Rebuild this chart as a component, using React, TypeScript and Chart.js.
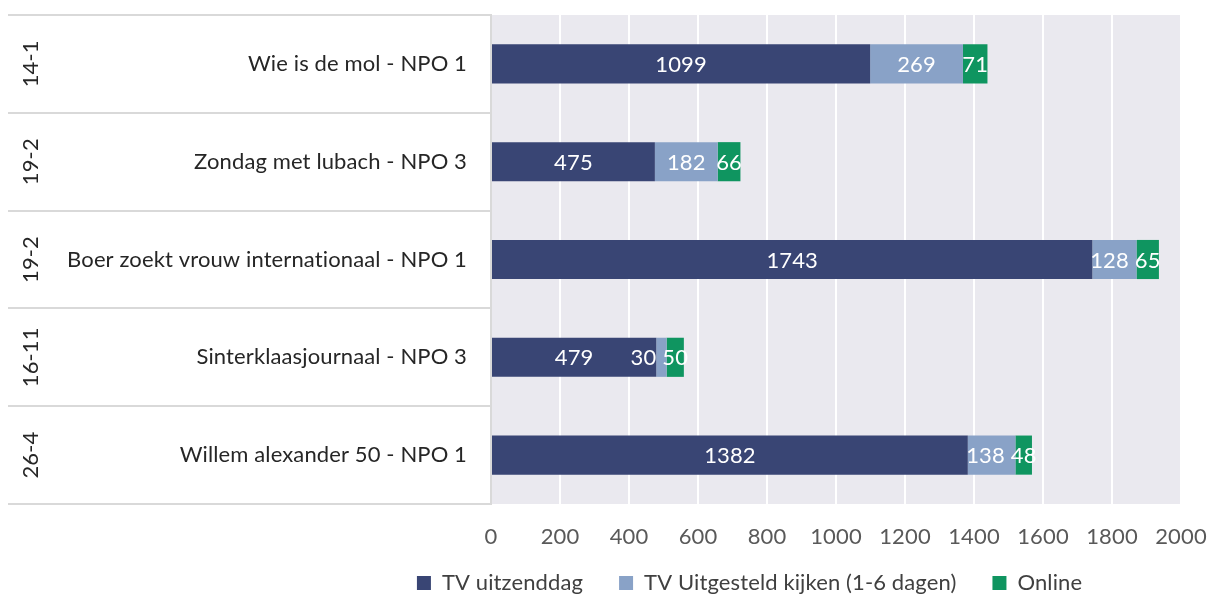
import React, { useEffect, useRef } from "react";
import { Chart, registerables } from "chart.js";

Chart.register(...registerables);

const dates = ["14-1", "19-2", "19-2", "16-11", "26-4"];
const programs = [
  "Wie is de mol - NPO 1",
  "Zondag met lubach - NPO 3",
  "Boer zoekt vrouw internationaal - NPO 1",
  "Sinterklaasjournaal - NPO 3",
  "Willem alexander 50 - NPO 1",
];
const seriesNames = ["TV uitzenddag", "TV Uitgesteld kijken (1-6 dagen)", "Online"];
const tvDay = [1099, 475, 1743, 479, 1382];
const tvDelayed = [269, 182, 128, 30, 138];
const online = [71, 66, 65, 50, 48];
const xMin = 0;
const xMax = 2000;
const xStep = 200;

const COLORS = ["#394574", "#89a2c7", "#0f9560"];
const FONT = "Lato, 'Noto Sans', sans-serif";
const LEFT_EDGE = 8;

const plotBgPlugin = {
  id: "plotBg",
  beforeDraw(chart: any) {
    const { ctx, chartArea } = chart;
    ctx.textRendering = "optimizeSpeed";
    ctx.letterSpacing = "0.12px";
    ctx.save();
    ctx.fillStyle = "#eae9ef";
    ctx.fillRect(chartArea.left, chartArea.top, chartArea.right - chartArea.left, chartArea.bottom - chartArea.top);
    ctx.restore();
  },
};

const leftPanelPlugin = {
  id: "leftPanel",
  afterDraw(chart: any) {
    const { ctx, chartArea } = chart;
    const y = chart.scales.y;
    const n = programs.length;
    ctx.save();
    ctx.strokeStyle = "#d9d9d9";
    ctx.lineWidth = 2;
    const step = (chartArea.bottom - chartArea.top) / n;
    for (let i = 0; i <= n; i++) {
      const yy = Math.round(chartArea.top + i * step);
      ctx.beginPath();
      ctx.moveTo(LEFT_EDGE, yy);
      ctx.lineTo(chartArea.left, yy);
      ctx.stroke();
    }
    ctx.fillStyle = "#262626";
    ctx.font = "22px " + FONT;
    ctx.textAlign = "center";
    ctx.textBaseline = "middle";
    dates.forEach((d, i) => {
      const cy = y.getPixelForValue(i);
      ctx.save();
      ctx.translate(31, cy);
      ctx.rotate(-Math.PI / 2);
      ctx.fillText(d, 0, 0);
      ctx.restore();
    });
    ctx.restore();
  },
};

const dataLabelPlugin = {
  id: "segLabels",
  afterDatasetsDraw(chart: any) {
    const { ctx } = chart;
    ctx.save();
    ctx.font = "22px " + FONT;
    ctx.fillStyle = "#ffffff";
    ctx.textBaseline = "middle";
    ctx.textAlign = "center";
    const nds = chart.data.datasets.length;
    chart.data.datasets.forEach((ds: any, di: number) => {
      const meta = chart.getDatasetMeta(di);
      meta.data.forEach((el: any, i: number) => {
        const v = ds.data[i];
        const text = String(v);
        const left = Math.min(el.x, el.base);
        const right = Math.max(el.x, el.base);
        const w = ctx.measureText(text).width;
        let cx = (left + right) / 2;
        if (w > right - left + 6 && di < nds - 1) {
          cx = left - w / 2;
        } else if (di < nds - 1) {
          const nEl = chart.getDatasetMeta(di + 1).data[i];
          const nText = String(chart.data.datasets[di + 1].data[i]);
          const nw = ctx.measureText(nText).width;
          const nLeft = (Math.min(nEl.x, nEl.base) + Math.max(nEl.x, nEl.base)) / 2 - nw / 2;
          if (cx + w / 2 > nLeft - 6) cx = nLeft - 6 - w / 2;
        }
        ctx.fillText(text, cx, el.y + 1);
      });
    });
    ctx.restore();
  },
};

const legendShiftPlugin = {
  id: "legendShift",
  afterLayout(chart: any) {
    const lg = chart.legend;
    if (!lg) return;
    const dx = 152;
    const dy = -14;
    lg.left += dx;
    lg.right += dx;
    lg.top += dy;
    lg.bottom += dy;
  },
};

export default function App() {
  const ref = useRef<HTMLCanvasElement | null>(null);
  useEffect(() => {
    document.body.style.margin = "0";
    const canvas = ref.current;
    if (!canvas) return;
    const chart = new Chart(canvas, {
      type: "bar",
      data: {
        labels: programs,
        datasets: [
          { label: seriesNames[0], data: tvDay, backgroundColor: COLORS[0] },
          { label: seriesNames[1], data: tvDelayed, backgroundColor: COLORS[1] },
          { label: seriesNames[2], data: online, backgroundColor: COLORS[2] },
        ],
      },
      options: {
        indexAxis: "y",
        animation: false,
        responsive: true,
        maintainAspectRatio: false,
        layout: { padding: { left: LEFT_EDGE, right: 28, top: 15, bottom: -24 } },
        datasets: { bar: { categoryPercentage: 1, barPercentage: 0.4 } },
        scales: {
          x: {
            stacked: true,
            min: xMin,
            max: xMax,
            ticks: {
              stepSize: xStep,
              color: "#595959",
              font: { size: 22, family: FONT },
              padding: 20,
              callback: (v: any) => String(v),
            },
            grid: { color: "#ffffff", lineWidth: 2, drawTicks: false },
            border: { display: false },
            afterFit(scale: any) {
              scale.height = 46;
              scale.paddingLeft = 0;
              scale.paddingRight = 0;
            },
          },
          y: {
            stacked: true,
            ticks: { color: "#262626", font: { size: 22, family: FONT }, padding: 24 },
            grid: { display: false, drawTicks: false },
            border: { display: true, color: "#d9d9d9", width: 2 },
            afterFit(scale: any) {
              scale.width = 483;
              scale.paddingTop = 0;
              scale.paddingBottom = 0;
            },
          },
        },
        plugins: {
          legend: {
            position: "bottom",
            labels: {
              color: "#404040",
              font: { size: 22, family: FONT },
              boxWidth: 14,
              boxHeight: 14,
              padding: 36,
            },
          },
          tooltip: { enabled: false },
        },
      },
      plugins: [plotBgPlugin, leftPanelPlugin, dataLabelPlugin, legendShiftPlugin],
    });
    return () => chart.destroy();
  }, []);
  return (
    <div style={{ position: "fixed", left: 0, top: 0, width: 1209, height: 594 }}>
      <canvas ref={ref} />
    </div>
  );
}
